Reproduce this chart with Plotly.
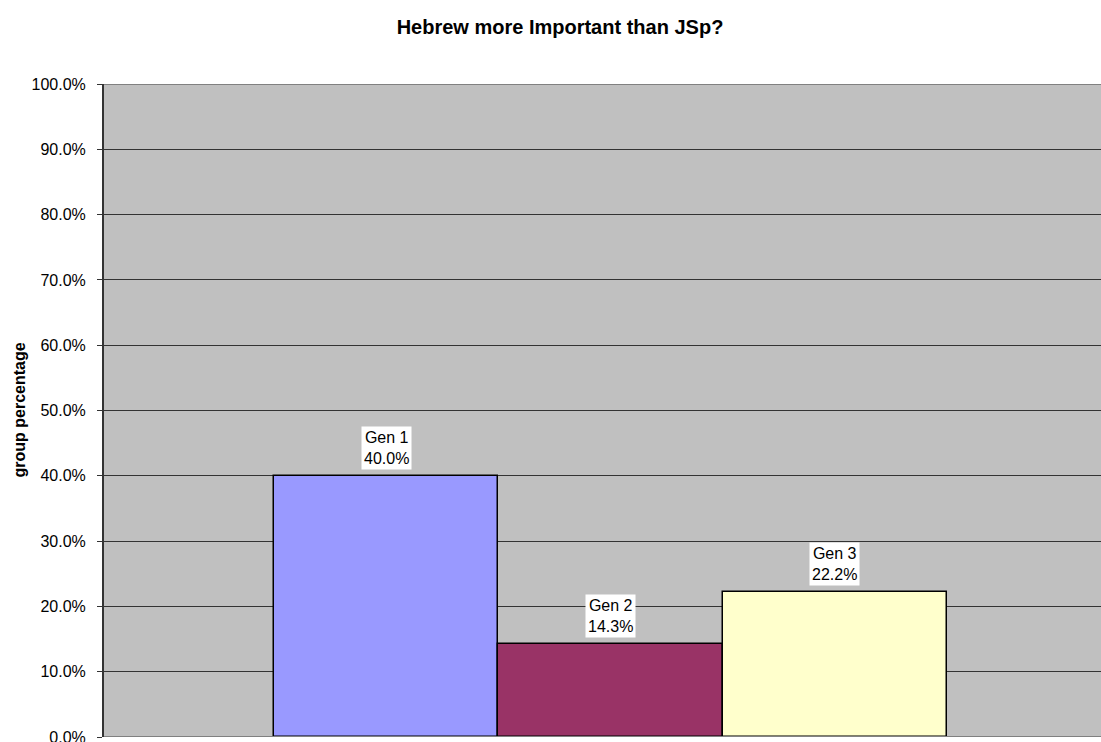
import plotly.graph_objects as go

# Survey result: share of each generation rating Hebrew above JSp
groups = ["Gen 1", "Gen 2", "Gen 3"]
shares = [0.400, 0.143, 0.222]
colors = ["#9999FF", "#993366", "#FFFFCC"]
y_ticks = [0.0, 0.1, 0.2, 0.3, 0.4, 0.5, 0.6, 0.7, 0.8, 0.9, 1.0]

FONT = "Liberation Sans, Arial, sans-serif"
positions = [-1, 0, 1]

fig = go.Figure()
for pos, name, val, col in zip(positions, groups, shares, colors):
    fig.add_trace(go.Bar(
        x=[pos], y=[val], width=[1.0], name=name,
        marker=dict(color=col, line=dict(color="#000000", width=1.5)),
        showlegend=False, hoverinfo="skip",
    ))
    fig.add_annotation(
        x=pos, y=val, xref="x", yref="y",
        text=f"{name}<br>{val:.1%}",
        showarrow=False, yanchor="bottom", yshift=6,
        bgcolor="#FFFFFF", borderpad=2,
        font=dict(family=FONT, size=16, color="#000000"),
        align="center",
    )

# plot-area top and bottom border
fig.add_shape(type="line", xref="paper", yref="y", x0=0, x1=1, y0=1.0, y1=1.0,
              line=dict(color="#808080", width=2), layer="above")
fig.add_shape(type="line", xref="paper", yref="y", x0=0, x1=1, y0=0.0, y1=0.0,
              line=dict(color="#808080", width=2), layer="above")

# vertical axis title
fig.add_annotation(
    xref="paper", yref="paper", x=(19 - 104) / 997, y=0.5,
    text="<b>group percentage</b>", textangle=-90, showarrow=False,
    xanchor="center", yanchor="middle",
    font=dict(family=FONT, size=16, color="#000000"),
)

fig.update_layout(
    width=1101, height=742,
    margin=dict(l=104, r=0, t=84, b=5, autoexpand=False),
    paper_bgcolor="#FFFFFF",
    plot_bgcolor="#C0C0C0",
    font=dict(family=FONT, size=16, color="#000000"),
    title=dict(
        text="<b>Hebrew more Important than JSp?</b>",
        x=560 / 1101, xanchor="center", y=1 - 27 / 742, yanchor="middle",
        font=dict(size=20),
    ),
    xaxis=dict(
        range=[-2.258, 2.187], showticklabels=False, showgrid=False,
        zeroline=False, ticks="", showline=False, fixedrange=True,
        automargin=False,
    ),
    yaxis=dict(
        range=[0, 1.0], tickvals=y_ticks, tickformat=".1%",
        showgrid=True, gridcolor="#333333", gridwidth=1,
        zeroline=False, showline=True, linecolor="#333333", linewidth=2,
        ticks="outside", ticklen=5, tickcolor="#333333",
        tickfont=dict(size=16), ticklabelstandoff=8,
        ticklabeloverflow="allow", automargin=False,
    ),
    bargap=0,
)

fig.write_html("out.html")
